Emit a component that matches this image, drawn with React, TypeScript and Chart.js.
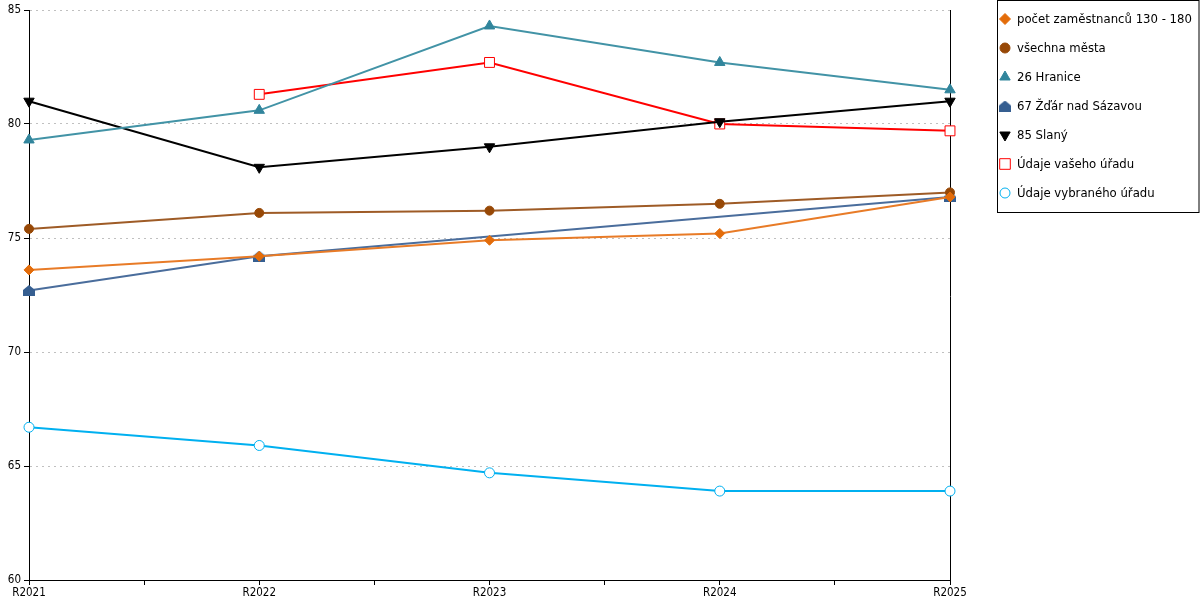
import { useEffect, useRef } from "react"
import { Chart, registerables, type ChartConfiguration, type Plugin } from "chart.js"
import { drawPoint } from "chart.js/helpers"

Chart.register(...registerables)

const FONT = "'DejaVu Sans Condensed', 'DejaVu Sans', sans-serif"

const categories = ["R2021", "R2022", "R2023", "R2024", "R2025"]
const yTicks = [60, 65, 70, 75, 80, 85]

const pocetZamestnancu = [73.6, 74.2, 74.9, 75.2, 76.8]
const vsechnaMesta = [75.4, 76.1, 76.2, 76.5, 77.0]
const hranice = [79.3, 80.6, 84.3, 82.7, 81.5]
const zdarNadSazavou = [72.7, 74.2, null, null, 76.8]
const slany = [81.0, 78.1, 79.0, 80.1, 81.0]
const udajeVasehoUradu = [null, 81.3, 82.7, 80.0, 79.7]
const udajeVybranehoUradu = [66.7, 65.9, 64.7, 63.9, 63.9]

// little "house" marker (triangle roof on a square)
function makeHouse(color: string) {
  const c = document.createElement("canvas")
  c.width = 12
  c.height = 11
  const ctx = c.getContext("2d")!
  ctx.fillStyle = color
  ctx.beginPath()
  ctx.moveTo(6, 0)
  ctx.lineTo(12, 5)
  ctx.lineTo(12, 11)
  ctx.lineTo(0, 11)
  ctx.lineTo(0, 5)
  ctx.closePath()
  ctx.fill()
  return c
}

const toXY = (values: (number | null)[]) => values.map((v, i) => ({ x: i, y: v }))

// boxed legend on the right, drawn on the canvas
const boxLegend: Plugin = {
  id: "boxLegend",
  afterDraw(chart) {
    const ctx = chart.ctx
    const left = 997.5
    ctx.save()
    ctx.strokeStyle = "#000"
    ctx.lineWidth = 1
    ctx.strokeRect(left, 0.5, 1199 - left, 212)
    ctx.font = `13px ${FONT}`
    ctx.textBaseline = "middle"
    chart.data.datasets.forEach((ds: any, i) => {
      const y = 19 + i * 29
      ctx.fillStyle = ds.pointBackgroundColor
      ctx.strokeStyle = ds.pointBorderColor
      ctx.lineWidth = ds.pointBorderWidth
      drawPoint(ctx, {
        pointStyle: ds.pointStyle,
        radius: ds.legendRadius,
        rotation: ds.pointRotation || 0,
        borderWidth: ds.pointBorderWidth,
      }, 1005, y)
      ctx.fillStyle = "#000"
      ctx.fillText(ds.label, 1017, y + 1)
    })
    ctx.restore()
  },
}

// black line closing the plot on the right
const rightBorder: Plugin = {
  id: "rightBorder",
  beforeDatasetsDraw(chart) {
    const { ctx, chartArea } = chart
    ctx.save()
    ctx.strokeStyle = "#000"
    ctx.lineWidth = 1
    ctx.beginPath()
    ctx.moveTo(Math.round(chartArea.right) + 0.5, chartArea.top)
    ctx.lineTo(Math.round(chartArea.right) + 0.5, chartArea.bottom + 3)
    ctx.stroke()
    ctx.restore()
  },
}

export default function App() {
  const chartRef = useRef<HTMLCanvasElement>(null)
  const chartInstance = useRef<Chart | null>(null)

  useEffect(() => {
    if (!chartRef.current) return
    const ctx = chartRef.current.getContext("2d")
    if (!ctx) return

    if (chartInstance.current) {
      chartInstance.current.destroy()
    }

    Chart.defaults.font.family = FONT
    Chart.defaults.color = "#000"

    const house = makeHouse("#365F91")

    const datasets: any[] = [
      {
        label: "počet zaměstnanců 130 - 180",
        data: toXY(pocetZamestnancu),
        borderColor: "#E87B27",
        pointBackgroundColor: "#E36C0A",
        pointBorderColor: "#E36C0A",
        pointBorderWidth: 1,
        pointStyle: "rectRot",
        pointRadius: 5,
        legendRadius: 5.5,
      },
      {
        label: "všechna města",
        data: toXY(vsechnaMesta),
        borderColor: "#9E5B26",
        pointBackgroundColor: "#974806",
        pointBorderColor: "#974806",
        pointBorderWidth: 1,
        pointStyle: "circle",
        pointRadius: 4.5,
        legendRadius: 5,
      },
      {
        label: "26 Hranice",
        data: toXY(hranice),
        borderColor: "#4293A6",
        pointBackgroundColor: "#31859C",
        pointBorderColor: "#31859C",
        pointBorderWidth: 1,
        pointStyle: "triangle",
        pointRadius: 6,
        legendRadius: 6,
      },
      {
        label: "67 Žďár nad Sázavou",
        data: toXY(zdarNadSazavou),
        spanGaps: true,
        borderColor: "#4A6D9C",
        pointBackgroundColor: "#365F91",
        pointBorderColor: "#365F91",
        pointBorderWidth: 0,
        pointStyle: house,
        pointRadius: 6,
        legendRadius: 6,
      },
      {
        label: "85 Slaný",
        data: toXY(slany),
        borderColor: "#000000",
        pointBackgroundColor: "#000000",
        pointBorderColor: "#000000",
        pointBorderWidth: 1,
        pointStyle: "triangle",
        pointRotation: 180,
        pointRadius: 6,
        legendRadius: 6,
      },
      {
        label: "Údaje vašeho úřadu",
        data: toXY(udajeVasehoUradu),
        borderColor: "#FF0000",
        pointBackgroundColor: "#FFFFFF",
        pointBorderColor: "#FF0000",
        pointBorderWidth: 1,
        pointStyle: "rect",
        pointRadius: 7,
        legendRadius: 7.5,
      },
      {
        label: "Údaje vybraného úřadu",
        data: toXY(udajeVybranehoUradu),
        borderColor: "#00B0F0",
        pointBackgroundColor: "#FFFFFF",
        pointBorderColor: "#00B0F0",
        pointBorderWidth: 1,
        pointStyle: "circle",
        pointRadius: 5,
        legendRadius: 5,
      },
    ]
    datasets.forEach((d) => {
      d.borderWidth = 2
      d.fill = false
      d.tension = 0
      d.clip = false
      d.pointHoverRadius = d.pointRadius
    })

    const config: ChartConfiguration = {
      type: "line",
      data: { labels: categories, datasets },
      options: {
        responsive: true,
        maintainAspectRatio: false,
        animation: false,
        events: [],
        layout: { padding: { top: 10, right: 250, left: 0, bottom: 0 } },
        scales: {
          x: {
            type: "linear",
            min: 0,
            max: categories.length - 1,
            afterFit: (s) => {
              s.height = 20
            },
            afterBuildTicks: (s) => {
              const t = []
              for (let i = 0; i <= (categories.length - 1) * 2; i++) t.push({ value: i / 2 })
              s.ticks = t
            },
            ticks: {
              autoSkip: false,
              maxRotation: 0,
              padding: 1,
              font: { size: 11.5 },
              callback: (v) => (Number.isInteger(v) ? categories[v as number] : ""),
            },
            grid: {
              display: true,
              drawOnChartArea: false,
              tickLength: 5,
              tickColor: "#000",
            },
            border: { display: true, color: "#000", width: 1 },
          },
          y: {
            min: yTicks[0],
            max: yTicks[yTicks.length - 1],
            afterFit: (s) => {
              s.width = 29
            },
            afterBuildTicks: (s) => {
              s.ticks = yTicks.map((v) => ({ value: v }))
            },
            ticks: {
              padding: 3,
              font: { size: 11.5 },
            },
            grid: {
              color: "#C0C0C0",
              tickColor: "#000",
              tickLength: 5,
              tickBorderDash: [],
            },
            border: { display: true, color: "#000", width: 1, dash: [2, 4] },
          },
        },
        plugins: {
          legend: { display: false },
          tooltip: { enabled: false },
        },
      },
      plugins: [rightBorder, boxLegend],
    }

    chartInstance.current = new Chart(ctx, config)

    return () => {
      if (chartInstance.current) {
        chartInstance.current.destroy()
        chartInstance.current = null
      }
    }
  }, [])

  return (
    <div style={{ position: "fixed", left: 0, top: 0, width: 1200, height: 600, background: "#fff" }}>
      <canvas ref={chartRef} />
    </div>
  )
}
